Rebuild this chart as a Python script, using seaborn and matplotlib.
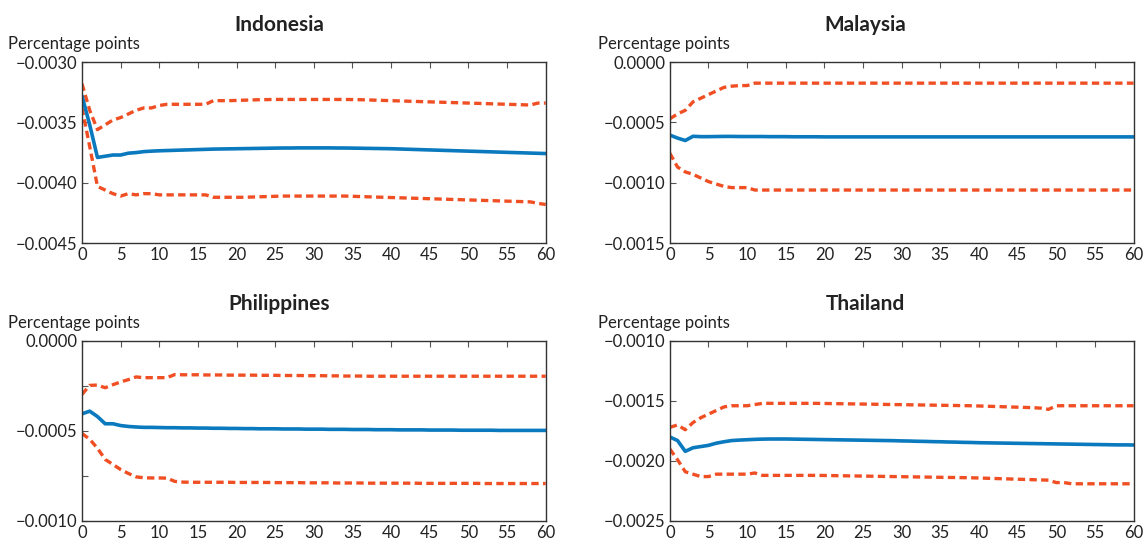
import numpy as np
import pandas as pd
import matplotlib
matplotlib.use("Agg")
import matplotlib.pyplot as plt
import seaborn as sns
from matplotlib.ticker import MultipleLocator, FuncFormatter

# horizon 0..60
horizon = list(range(61))

indonesia_irf = [
    -0.003280, -0.003520, -0.003790, -0.003780, -0.003770, -0.003770, -0.003755, -0.003750, -0.003742, -0.003738,
    -0.003735, -0.003733, -0.003731, -0.003729, -0.003727, -0.003725, -0.003723, -0.003721, -0.003720, -0.003719,
    -0.003718, -0.003717, -0.003716, -0.003715, -0.003714, -0.003713, -0.003712, -0.003712, -0.003711, -0.003711,
    -0.003711, -0.003711, -0.003711, -0.003712, -0.003712, -0.003713, -0.003714, -0.003715, -0.003716, -0.003717,
    -0.003718, -0.003720, -0.003722, -0.003724, -0.003726, -0.003728, -0.003730, -0.003732, -0.003734, -0.003736,
    -0.003738, -0.003740, -0.003742, -0.003744, -0.003746, -0.003748, -0.003750, -0.003752, -0.003754, -0.003756,
    -0.003758]
indonesia_upper = [
    -0.00318, -0.00340, -0.00356, -0.00352, -0.00348, -0.00346, -0.00343, -0.00340, -0.00338, -0.00338,
    -0.00336, -0.00335, -0.00335, -0.00335, -0.00335, -0.00335, -0.00335, -0.00332, -0.00332, -0.00332,
    -0.003318, -0.003316, -0.003314, -0.003312, -0.003311, -0.00331, -0.00331, -0.00331, -0.00331, -0.00331,
    -0.00331, -0.00331, -0.00331, -0.00331, -0.00331, -0.003311, -0.003312, -0.003314, -0.003316, -0.003318,
    -0.00332, -0.003322, -0.003324, -0.003326, -0.003328, -0.00333, -0.003332, -0.003334, -0.003336, -0.003338,
    -0.00334, -0.003342, -0.003344, -0.003346, -0.003348, -0.00335, -0.003352, -0.003354, -0.003356, -0.00334,
    -0.00334]
indonesia_lower = [
    -0.00338, -0.00370, -0.00403, -0.00406, -0.00409, -0.00411, -0.00409, -0.00410, -0.00409, -0.00409,
    -0.00410, -0.00410, -0.00410, -0.00410, -0.00410, -0.00410, -0.00410, -0.00412, -0.00412, -0.00412,
    -0.00412, -0.00412, -0.004118, -0.004116, -0.004114, -0.004112, -0.00411, -0.00411, -0.00411, -0.00411,
    -0.00411, -0.00411, -0.00411, -0.00411, -0.00411, -0.004112, -0.004114, -0.004116, -0.004118, -0.00412,
    -0.004122, -0.004124, -0.004126, -0.004128, -0.00413, -0.004132, -0.004134, -0.004136, -0.004138, -0.00414,
    -0.004142, -0.004144, -0.004146, -0.004148, -0.00415, -0.004152, -0.004154, -0.004156, -0.004158, -0.00417,
    -0.00418]

malaysia_irf = [
    -0.000605, -0.000630, -0.000650, -0.000615, -0.000618, -0.000618, -0.000617, -0.000616, -0.000616, -0.000617,
    -0.000617, -0.000617, -0.000617, -0.000618, -0.000618, -0.000618, -0.000619, -0.000619, -0.000619, -0.000619,
    -0.000620, -0.000620, -0.000620, -0.000620, -0.000620, -0.000620, -0.000620, -0.000620, -0.000620, -0.000620,
    -0.000620, -0.000620, -0.000620, -0.000620, -0.000620, -0.000620, -0.000620, -0.000620, -0.000620, -0.000620,
    -0.000620, -0.000620, -0.000620, -0.000620, -0.000620, -0.000620, -0.000620, -0.000620, -0.000620, -0.000620,
    -0.000620, -0.000620, -0.000620, -0.000620, -0.000620, -0.000620, -0.000620, -0.000620, -0.000620, -0.000620,
    -0.000620]
malaysia_upper = [
    -0.000470, -0.000430, -0.000400, -0.000330, -0.000300, -0.000270, -0.000240, -0.000210, -0.000200, -0.000195,
    -0.000195, -0.000175, -0.000175, -0.000175, -0.000175, -0.000175, -0.000175, -0.000175, -0.000175, -0.000175,
    -0.000175, -0.000175, -0.000175, -0.000175, -0.000175, -0.000175, -0.000175, -0.000175, -0.000175, -0.000175,
    -0.000175, -0.000175, -0.000175, -0.000175, -0.000175, -0.000175, -0.000175, -0.000175, -0.000175, -0.000175,
    -0.000175, -0.000175, -0.000175, -0.000175, -0.000175, -0.000175, -0.000175, -0.000175, -0.000175, -0.000175,
    -0.000175, -0.000175, -0.000175, -0.000175, -0.000175, -0.000175, -0.000175, -0.000175, -0.000175, -0.000175,
    -0.000175]
malaysia_lower = [
    -0.000755, -0.000870, -0.000910, -0.000930, -0.000960, -0.000990, -0.001010, -0.001030, -0.001040, -0.001040,
    -0.001040, -0.001060, -0.001060, -0.001060, -0.001060, -0.001060, -0.001060, -0.001060, -0.001060, -0.001060,
    -0.001060, -0.001060, -0.001060, -0.001060, -0.001060, -0.001060, -0.001060, -0.001060, -0.001060, -0.001060,
    -0.001060, -0.001060, -0.001060, -0.001060, -0.001060, -0.001060, -0.001060, -0.001060, -0.001060, -0.001060,
    -0.001060, -0.001060, -0.001060, -0.001060, -0.001060, -0.001060, -0.001060, -0.001060, -0.001060, -0.001060,
    -0.001060, -0.001060, -0.001060, -0.001060, -0.001060, -0.001060, -0.001060, -0.001060, -0.001060, -0.001060,
    -0.001060]

philippines_irf = [
    -0.000405, -0.000390, -0.000420, -0.000460, -0.000460, -0.000470, -0.000475, -0.000478, -0.000480, -0.000480,
    -0.000481, -0.000482, -0.000482, -0.000483, -0.000483, -0.000484, -0.000484, -0.000485, -0.000485, -0.000486,
    -0.000486, -0.000487, -0.000487, -0.000488, -0.000488, -0.000488, -0.000489, -0.000489, -0.000489, -0.000490,
    -0.000490, -0.000490, -0.000491, -0.000491, -0.000491, -0.000492, -0.000492, -0.000492, -0.000493, -0.000493,
    -0.000493, -0.000494, -0.000494, -0.000494, -0.000494, -0.000495, -0.000495, -0.000495, -0.000495, -0.000496,
    -0.000496, -0.000496, -0.000496, -0.000496, -0.000497, -0.000497, -0.000497, -0.000497, -0.000497, -0.000497,
    -0.000497]
philippines_upper = [
    -0.000297, -0.000247, -0.000245, -0.000260, -0.000243, -0.000228, -0.000215, -0.000200, -0.000204, -0.000204,
    -0.000204, -0.000204, -0.000187, -0.000188, -0.000188, -0.000188, -0.000189, -0.000189, -0.000189, -0.000190,
    -0.000190, -0.000190, -0.000190, -0.000191, -0.000191, -0.000191, -0.000192, -0.000192, -0.000192, -0.000193,
    -0.000193, -0.000193, -0.000194, -0.000194, -0.000195, -0.000195, -0.000195, -0.000196, -0.000196, -0.000196,
    -0.000196, -0.000196, -0.000196, -0.000196, -0.000196, -0.000196, -0.000196, -0.000196, -0.000196, -0.000196,
    -0.000196, -0.000196, -0.000196, -0.000196, -0.000196, -0.000196, -0.000196, -0.000196, -0.000196, -0.000196,
    -0.000196]
philippines_lower = [
    -0.000514, -0.000546, -0.000596, -0.000658, -0.000686, -0.000714, -0.000736, -0.000755, -0.000760, -0.000761,
    -0.000761, -0.000762, -0.000780, -0.000784, -0.000785, -0.000785, -0.000785, -0.000785, -0.000785, -0.000785,
    -0.000786, -0.000786, -0.000786, -0.000786, -0.000786, -0.000787, -0.000787, -0.000787, -0.000787, -0.000788,
    -0.000788, -0.000788, -0.000788, -0.000789, -0.000789, -0.000789, -0.000789, -0.000790, -0.000790, -0.000790,
    -0.000790, -0.000790, -0.000790, -0.000790, -0.000791, -0.000791, -0.000791, -0.000791, -0.000791, -0.000791,
    -0.000791, -0.000791, -0.000792, -0.000792, -0.000792, -0.000792, -0.000792, -0.000792, -0.000792, -0.000792,
    -0.000792]

thailand_irf = [
    -0.001800, -0.001830, -0.001920, -0.001890, -0.001880, -0.001870, -0.001852, -0.001840, -0.001830, -0.001826,
    -0.001823, -0.001820, -0.001818, -0.001817, -0.001817, -0.001817, -0.001818, -0.001819, -0.001820, -0.001821,
    -0.001822, -0.001823, -0.001824, -0.001825, -0.001826, -0.001827, -0.001828, -0.001829, -0.001830, -0.001831,
    -0.001833, -0.001834, -0.001836, -0.001837, -0.001839, -0.001840, -0.001842, -0.001843, -0.001845, -0.001846,
    -0.001848, -0.001849, -0.001850, -0.001851, -0.001852, -0.001853, -0.001854, -0.001855, -0.001856, -0.001857,
    -0.001858, -0.001859, -0.001860, -0.001861, -0.001862, -0.001863, -0.001864, -0.001865, -0.001866, -0.001866,
    -0.001867]
thailand_upper = [
    -0.00172, -0.00170, -0.00174, -0.00168, -0.00164, -0.00161, -0.00158, -0.00155, -0.00154, -0.00154,
    -0.00154, -0.00153, -0.00152, -0.00152, -0.00152, -0.00152, -0.00152, -0.00152, -0.00152, -0.00152,
    -0.001521, -0.001522, -0.001523, -0.001524, -0.001525, -0.001526, -0.001527, -0.001528, -0.001529, -0.00153,
    -0.001531, -0.001532, -0.001533, -0.001534, -0.001535, -0.001536, -0.001537, -0.001538, -0.001539, -0.00154,
    -0.001542, -0.001544, -0.001546, -0.001548, -0.00155, -0.001552, -0.001554, -0.001556, -0.00156, -0.00157,
    -0.00154, -0.00154, -0.00154, -0.00154, -0.00154, -0.00154, -0.00154, -0.00154, -0.00154, -0.00154,
    -0.00154]
thailand_lower = [
    -0.00190, -0.00199, -0.00209, -0.00211, -0.00213, -0.00213, -0.00211, -0.00211, -0.00211, -0.00211,
    -0.00211, -0.00210, -0.00212, -0.00212, -0.00212, -0.00212, -0.00212, -0.00212, -0.00212, -0.00212,
    -0.002121, -0.002122, -0.002123, -0.002124, -0.002125, -0.002126, -0.002127, -0.002128, -0.002129, -0.00213,
    -0.002131, -0.002132, -0.002133, -0.002134, -0.002135, -0.002136, -0.002137, -0.002138, -0.002139, -0.00214,
    -0.002142, -0.002144, -0.002146, -0.002148, -0.00215, -0.002152, -0.002154, -0.002156, -0.002158, -0.00216,
    -0.00218, -0.00218, -0.00219, -0.00219, -0.00219, -0.00219, -0.00219, -0.00219, -0.00219, -0.00219,
    -0.00219]

countries = ["Indonesia", "Malaysia", "Philippines", "Thailand"]
series = {
    "Indonesia": (indonesia_irf, indonesia_upper, indonesia_lower),
    "Malaysia": (malaysia_irf, malaysia_upper, malaysia_lower),
    "Philippines": (philippines_irf, philippines_upper, philippines_lower),
    "Thailand": (thailand_irf, thailand_upper, thailand_lower),
}
y_limits = {
    "Indonesia": (-0.0045, -0.0030),
    "Malaysia": (-0.0015, 0.0),
    "Philippines": (-0.0010, 0.0),
    "Thailand": (-0.0025, -0.0010),
}

BLUE = "#0A79BD"
RED = "#F04E23"

sns.set_theme(style="white")
plt.rcParams["font.family"] = ["Lato", "DejaVu Sans"]
plt.rcParams["axes.edgecolor"] = "#333333"
plt.rcParams["axes.linewidth"] = 1.0

fig = plt.figure(figsize=(11.45, 5.44), dpi=100)

# axes boxes in figure fractions: left, bottom, width, height
boxes = {
    "Indonesia": (0.0716, 0.553, 0.405, 0.333),
    "Malaysia": (0.585, 0.553, 0.405, 0.333),
    "Philippines": (0.0716, 0.0423, 0.405, 0.331),
    "Thailand": (0.585, 0.0423, 0.405, 0.331),
}
title_pos = {
    "Indonesia": (0.244, 0.954),
    "Malaysia": (0.756, 0.954),
    "Philippines": (0.244, 0.441),
    "Thailand": (0.756, 0.441),
}
unit_pos = {
    "Indonesia": (0.007, 0.919),
    "Malaysia": (0.522, 0.919),
    "Philippines": (0.007, 0.406),
    "Thailand": (0.522, 0.406),
}


def fmt(v, pos):
    s = f"{v:.4f}"
    if s.startswith("-"):
        s = "\u2212" + s[1:]
    if s == "\u22120.0000":
        s = "0.0000"
    return s


for name in countries:
    irf, upper, lower = series[name]
    df = pd.DataFrame({"horizon": horizon, "irf": irf, "upper": upper, "lower": lower})
    ax = fig.add_axes(boxes[name])
    sns.lineplot(data=df, x="horizon", y="upper", ax=ax, color=RED, linewidth=2.4,
                 linestyle=(0, (2.2, 1.3)))
    sns.lineplot(data=df, x="horizon", y="lower", ax=ax, color=RED, linewidth=2.4,
                 linestyle=(0, (2.2, 1.3)))
    sns.lineplot(data=df, x="horizon", y="irf", ax=ax, color=BLUE, linewidth=2.6)

    ax.set_xlim(0, 60)
    ax.set_ylim(*y_limits[name])
    ax.xaxis.set_major_locator(MultipleLocator(5))
    ax.yaxis.set_major_locator(MultipleLocator(0.0005))
    if name == "Philippines":
        ax.yaxis.set_minor_locator(MultipleLocator(0.00025))
    ax.yaxis.set_major_formatter(FuncFormatter(fmt))
    ax.set_xlabel("")
    ax.set_ylabel("")
    ax.tick_params(axis="x", which="both", direction="in", top=True, bottom=False,
                   length=4, width=0.8, color="#555555", labelsize=12, pad=3, labelcolor="#222222")
    ax.tick_params(axis="y", which="both", direction="in", left=True, right=False,
                   length=4, width=0.8, color="#555555", labelsize=12, pad=3, labelcolor="#222222")
    for sp in ax.spines.values():
        sp.set_visible(True)
        sp.set_color("#333333")

    fig.text(*title_pos[name], name, ha="center", va="center", fontsize=15,
             fontweight="bold", color="#222222")
    fig.text(*unit_pos[name], "Percentage points", ha="left", va="center",
             fontsize=12, color="#222222")

fig.savefig("out.png", dpi=100)
